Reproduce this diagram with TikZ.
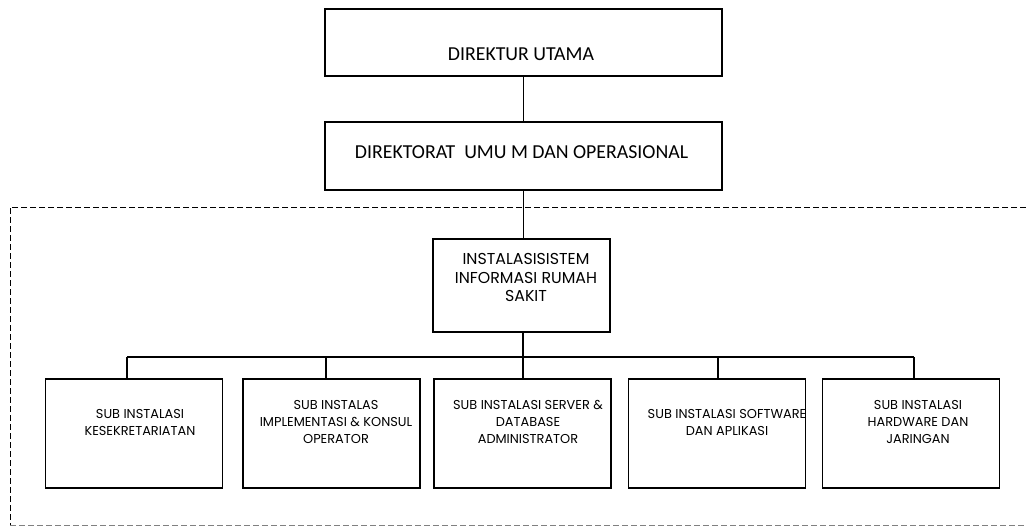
\documentclass[tikz,border=0pt]{standalone}
\usepackage{fontspec}
\setmainfont{Carlito}
\newfontfamily\gothic{Poppins}
\usetikzlibrary{positioning}
\tikzset{
  box/.style={draw, line width=1.1pt, inner sep=0pt},
  topbox/.style={box, minimum width=397pt, minimum height=67pt},
  subbox/.style={box, minimum width=177pt, minimum height=109pt},
  toptext/.style={font=\fontsize{19.8}{22}\selectfont},
  subtext/.style={font=\gothic\fontsize{12.9}{17}\selectfont, align=center},
  midtext/.style={font=\gothic\fontsize{15.8}{18.5}\selectfont, align=center},
  link/.style={line width=1.1pt},
  zone/.style={dash pattern=on 6pt off 3pt, line width=0.9pt},
}

\begin{document}
\begin{tikzpicture}[x=1pt, y=-1pt]
  \useasboundingbox (0,0) rectangle (1026,527);

  % direksi
  \node[topbox] (dirut) at (523.5,42.5) {};
  \node[toptext] (dirut-t) at (521,54) {DIREKTUR UTAMA};
  \node[topbox, minimum height=68pt] (dirum) at (523.5,156) {};
  \node[toptext] (dirum-t) at (521.5,152) {DIREKTORAT\ \ UMU M DAN OPERASIONAL};

  % instalasi
  \node[box, minimum width=177pt, minimum height=93pt] (sirs) at (521.5,285.5) {};
  \node[midtext] (sirs-t) at (526,277.5) {INSTALASISISTEM\\INFORMASI RUMAH\\SAKIT};

  % sub instalasi
  \node[subbox] (sub1) at (134,433.5) {};
  \node[subbox] (sub2) at (331.5,433.5) {};
  \node[subbox] (sub3) at (522.5,433.5) {};
  \node[subbox] (sub4) at (717,433.5) {};
  \node[subbox] (sub5) at (911,433.5) {};
  \node[subtext] (sub1-t) at (140,422) {SUB INSTALASI\\KESEKRETARIATAN};
  \node[subtext] (sub2-t) at (336,422) {SUB INSTALAS\\IMPLEMENTASI \& KONSUL\\OPERATOR};
  \node[subtext] (sub3-t) at (528,422) {SUB INSTALASI SERVER \&\\DATABASE\\ADMINISTRATOR};
  \node[subtext] (sub4-t) at (727,422) {SUB INSTALASI SOFTWARE\\DAN APLIKASI};
  \node[subtext] (sub5-t) at (918,422) {SUB INSTALASI\\HARDWARE DAN\\JARINGAN};

  % garis
  \draw[link] (dirut) -- (dirum);
  \draw[link] (dirum.south) -- (dirum.south |- sirs.north);
  \coordinate (bar) at (523,357);
  \draw[link] (sirs.south -| bar) -- (bar);
  \coordinate (d1) at (127,357);
  \coordinate (d2) at (326,357);
  \coordinate (d3) at (523,357);
  \coordinate (d4) at (718,357);
  \coordinate (d5) at (914,357);
  \draw[link] (d1) -- (d5);
  \foreach \i in {1,...,5}
    \draw[link] (d\i) -- (d\i |- sub\i.north);

  % batas
  \draw[zone] (1026,207) -- (10,207) -- (10,525);
  \draw[zone, gray, line width=0.6pt] (10,525) -- (1026,525);
\end{tikzpicture}
\end{document}
